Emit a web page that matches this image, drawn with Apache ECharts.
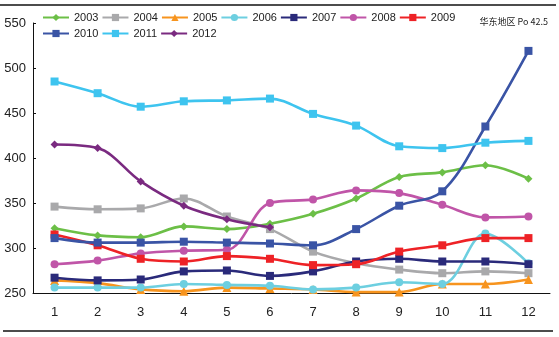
<!DOCTYPE html>
<html><head><meta charset="utf-8">
<script src="https://cdn.jsdelivr.net/npm/echarts@6/dist/echarts.min.js"></script>
<style>html,body{margin:0;padding:0;background:#fff}#c{width:559px;height:337px}</style>
</head><body><div id="c"></div>
<script>
const months = ['1','2','3','4','5','6','7','8','9','10','11','12'];
const s2003 = [322,314,312,324,321,327,338,355,379,384,392,377];
const s2004 = [346,343,344,355,335,321,296,283,276,272,274,272];
const s2005 = [264,261,254,252,256,255,254,251,251,260,260,265];
const s2006 = [256,256,256,260,259,258,254,256,262,260,316,283];
const s2007 = [267,264,265,274,275,269,274,285,288,285,285,282];
const s2008 = [282,286,294,297,298,350,354,364,361,348,334,335];
const s2009 = [315,303,288,285,291,288,281,282,296,303,311,311];
const s2010 = [311,306,306,307,306,305,303,321,347,363,435,519];
const s2011 = [485,472,457,463,464,466,449,436,413,411,417,419];
const s2012 = [415,411,374,347,332,323];
const yTicks = [250,300,350,400,450,500,550];

const names = ['2003','2004','2005','2006','2007','2008','2009','2010','2011','2012'];
const datas = [s2003,s2004,s2005,s2006,s2007,s2008,s2009,s2010,s2011,s2012];
const colors = ['#6cbf47','#a9a9ab','#f7941e','#6dcfe0','#2a2a7a','#c055a8','#ee2226','#3a54a5','#3ec4ef','#7a2a80'];
const symbols = ['diamond','rect','triangle','circle','rect','circle','rect','rect','rect','diamond'];
const FONT = '"Liberation Sans Narrow","Arial Narrow","Liberation Sans",Arial,sans-serif';

const chart = echarts.init(document.getElementById('c'), null, {renderer:'canvas'});
const legendCommon = {
  left: 42, orient: 'horizontal', padding: 0, itemWidth: 26, itemHeight: 9, itemGap: 3,
  textStyle: {fontFamily: FONT, fontSize: 11, color: '#222'}
};
chart.setOption({
  animation: false,
  grid: {left: 33, right: 9, top: 23, bottom: 44, containLabel: false},
  legend: [
    Object.assign({top: 12, data: names.slice(0,7)}, legendCommon),
    Object.assign({top: 28, data: names.slice(7)}, legendCommon)
  ],
  graphic: [
    {type:'line', shape:{x1:0,y1:5,x2:556,y2:5}, style:{stroke:'#111',lineWidth:1.5}},
    {type:'line', shape:{x1:3,y1:331,x2:553,y2:331}, style:{stroke:'#111',lineWidth:1.5}},
    {type:'text', right: 11, top: 17, style:{text:'华东地区 Po 42.5', fontSize: 9, fill:'#222', fontFamily:'"Noto Sans CJK SC",' + FONT}}
  ],
  xAxis: {
    type: 'category', data: months, boundaryGap: true,
    axisLine: {lineStyle: {color: '#111', width: 1}},
    axisTick: {inside: true, length: 4, alignWithLabel: false, lineStyle: {color: '#111'}},
    axisLabel: {fontFamily: FONT, fontSize: 13, color: '#222', margin: 13}
  },
  yAxis: {
    type: 'value', min: yTicks[0], max: yTicks[yTicks.length-1], interval: 50,
    splitLine: {show: false},
    axisLine: {show: true, lineStyle: {color: '#111', width: 1}},
    axisTick: {show: true, inside: true, length: 3, lineStyle: {color: '#111'}},
    axisLabel: {fontFamily: FONT, fontSize: 13, color: '#222', margin: 7}
  },
  series: names.map((n, i) => ({
    name: n, type: 'line', data: datas[i], smooth: 0.35,
    symbol: symbols[i], symbolSize: symbols[i] === 'triangle' ? 9 : 8,
    lineStyle: {color: colors[i], width: 2.6},
    itemStyle: {color: colors[i]},
    z: 2 + i
  }))
});
</script></body></html>
